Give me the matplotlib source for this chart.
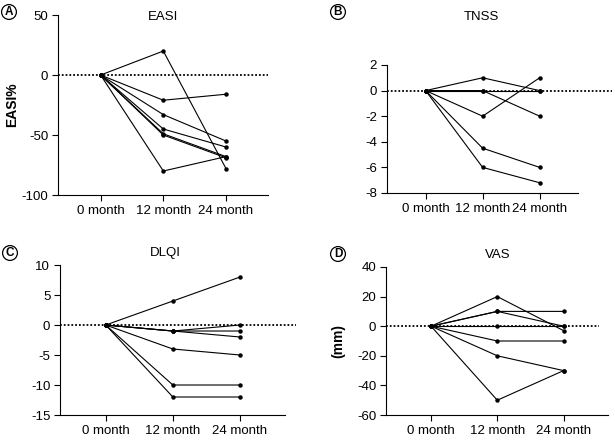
import matplotlib
matplotlib.use('Agg')
import matplotlib.pyplot as plt

plt.rcParams['font.family'] = ['Liberation Sans', 'DejaVu Sans']
plt.rcParams['axes.unicode_minus'] = False

months = ['0 month', '12 month', '24 month']

# each row = one patient: change at 0, 12, 24 month
easi = [[0, 20, -78], [0, -21, -16], [0, -33, -55], [0, -45, -60],
        [0, -49, -68], [0, -50, -69], [0, -80, -68]]
tnss = [[0, 1, 0], [0, 0, 0], [0, 0, -2], [0, -2, 1], [0, -4.5, -6], [0, -6, -7.2]]
dlqi = [[0, 4, 8], [0, -1, 0], [0, -1, -1], [0, -1, -2], [0, -4, -5],
        [0, -10, -10], [0, -12, -12]]
vas = [[0, 20, -3], [0, 10, 10], [0, 10, 0], [0, 0, 0], [0, -10, -10],
       [0, -20, -30], [0, -50, -30]]

panels = [
    # data, title, letter, ylim, yticks, ylabel, axes rect, title pos, dotted extent, letter pos
    (easi, 'EASI', 'A', (-100, 50), [-100, -50, 0, 50], 'EASI%',
     [0.0943, 0.5568, 0.3415, 0.409], (0.5, 0.99), 1.0, (9, 12)),
    (tnss, 'TNSS', 'B', (-8, 2), [-8, -6, -4, -2, 0, 2], '',
     [0.629, 0.5614, 0.3106, 0.2909], (0.497, 1.375), 1.18, (338, 12)),
    (dlqi, 'DLQI', 'C', (-15, 10), [-15, -10, -5, 0, 5, 10], '',
     [0.0976, 0.0568, 0.3659, 0.3409], (0.47, 1.08), 1.05, (10, 253)),
    (vas, 'VAS', 'D', (-60, 40), [-60, -40, -20, 0, 20, 40], '(mm)',
     [0.6276, 0.0568, 0.361, 0.3364], (0.505, 1.08), 0.96, (338, 254)),
]

fig = plt.figure(figsize=(6.15, 4.4), dpi=100)

for data, title, letter, ylim, yticks, ylabel, rect, tpos, dot_end, lpos in panels:
    ax = fig.add_axes(rect)
    for row in data:
        ax.plot(range(3), row, color='black', lw=0.8, marker='o', ms=2.2, zorder=3)
    ax.axhline(0, xmin=0, xmax=dot_end, color='black', ls=(0, (1, 1.1)), lw=1.3,
               clip_on=False, zorder=2)
    ax.set_xlim(-0.68, 2.67)
    ax.set_ylim(*ylim)
    ax.set_xticks(range(3))
    ax.set_xticklabels(months)
    ax.set_yticks(yticks)
    ax.tick_params(labelsize=9.5, length=4, width=0.8, direction='out', pad=3)
    for s in ['top', 'right']:
        ax.spines[s].set_visible(False)
    for s in ['left', 'bottom']:
        ax.spines[s].set_linewidth(0.8)
    if ylabel:
        ax.set_ylabel(ylabel, fontsize=10, fontweight='bold')
        ax.yaxis.set_label_coords(-0.185, 0.5)
    ax.text(tpos[0], tpos[1], title, transform=ax.transAxes, ha='center', va='center',
            fontsize=9.5)
    fig.text(lpos[0] / 615, 1 - lpos[1] / 440, letter, ha='center', va='center',
             fontsize=8.5, fontweight='bold',
             bbox=dict(boxstyle='circle,pad=0.12', fc='white', ec='black', lw=0.9))

fig.savefig('out.png', dpi=100)
